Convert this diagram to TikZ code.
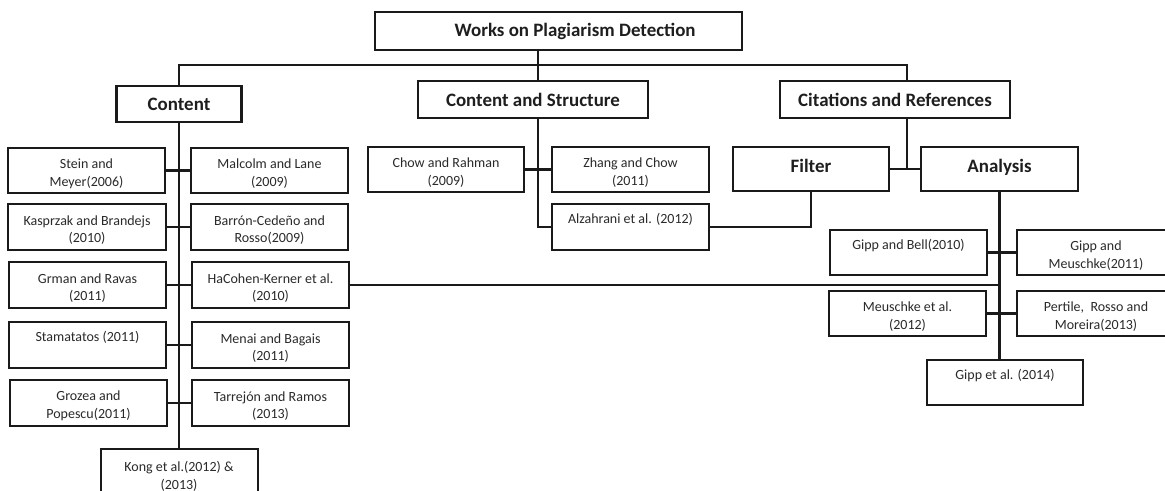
\documentclass[tikz,border=0pt]{standalone}
\usepackage{fontspec}
\setmainfont{Carlito}
\definecolor{linec}{HTML}{1A1A1A}
\definecolor{textc}{HTML}{1E1E1E}
\definecolor{textd}{HTML}{2A2A2A}
\tikzset{
  basebox/.style={draw=linec, inner sep=0pt, outer sep=0pt, align=center, fill=white},
  headbox/.style={basebox, line width=2.1pt, font=\fontsize{14.2}{17}\selectfont\bfseries, text=textc},
  refbox/.style={basebox, line width=1.5pt},
  reftext/.style={inner sep=0pt, align=center, font=\fontsize{10.5}{13.2}\selectfont, text=textd},
  conn/.style={draw=linec, line width=2.1pt},
}
\newcommand\bx[7]{\node[#1, minimum width={(#5-#3)*0.75pt}, minimum height={(#6-#4)*0.75pt}] (#2) at ({(#3+#5)/2},{(#4+#6)/2}) {#7};}
\newcommand\rb[6]{\node[refbox, minimum width={(#4-#2)*0.75pt}, minimum height={(#5-#3)*0.75pt}] (#1) at ({(#2+#4)/2},{(#3+#5)/2}) {};
  \node[reftext] (#1-t) at ([yshift=-2.3pt]#1.center) {#6};}
\begin{document}
\begin{tikzpicture}[x=0.75pt,y=-0.75pt]
\useasboundingbox (0,0) rectangle (1165,491);
\clip (0,0) rectangle (1165,491);
% headings
\bx{headbox}{root}{375}{12}{742}{50}{\hspace*{25pt}Works on Plagiarism Detection}
\bx{headbox}{content}{116.5}{86}{241.5}{122}{Content}
\bx{headbox}{cs}{418}{81}{648}{118}{Content and Structure}
\bx{headbox}{cit}{780}{81}{1010}{118}{Citations and References}
\bx{headbox}{filter}{733}{147}{889}{191}{\raisebox{4.5pt}{Filter}}
\bx{headbox}{analysis}{921}{147}{1078}{191}{\raisebox{4.5pt}{Analysis}}
% content column
\rb{stein}{8}{148}{165}{193}{Stein and\\Meyer(2006)}
\rb{malcolm}{191}{148}{348}{193}{Malcolm and Lane\\(2009)}
\rb{kasprzak}{8}{204}{166}{250}{Kasprzak and Brandejs\\(2010)}
\rb{barron}{191}{204}{348}{250}{Barrón-Cedeño and\\Rosso(2009)}
\rb{grman}{9}{262}{166}{308}{Grman and Ravas\\(2011)}
\rb{hacohen}{192}{262}{349}{308}{HaCohen-Kerner et al.\\(2010)}
\rb{stamatatos}{9}{322}{166}{368}{Stamatatos (2011)\\\strut}
\rb{menai}{192}{322}{349}{368}{Menai and Bagais\\(2011)}
\rb{grozea}{10}{380}{167}{426}{Grozea and\\Popescu(2011)}
\rb{tarrejon}{192}{380}{349}{426}{Tarrejón and Ramos\\(2013)}
\rb{kong}{100.5}{449}{257.5}{497}{Kong et al.(2012) \&\\(2013)}
% content and structure column
\rb{chow}{368}{147}{524}{192}{Chow and Rahman\\(2009)}
\rb{zhang}{552}{147}{709}{192}{Zhang and Chow\\(2011)}
\rb{alz}{552}{204}{709}{250}{Alzahrani et al. (2012)\\\strut}
% analysis column
\rb{gippbell}{830}{230}{987}{275}{Gipp and Bell(2010)\\\strut}
\rb{gippmeu}{1017}{230}{1175}{275}{Gipp and\\Meuschke(2011)}
\rb{meuschke}{829}{291}{986}{336}{Meuschke et al.\\(2012)}
\rb{pertile}{1017}{291}{1175}{336}{Pertile,\ \ Rosso and\\Moreira(2013)}
\rb{gipp2014}{927}{360}{1083}{405}{Gipp et al. (2014)\\\strut}
% connectors
\coordinate (jroot) at (538,65);
\coordinate (jright) at (907,65);
\draw[conn] (jroot |- root.south) -- (jroot);
\draw[conn] (content.north) |- (jright) -- (jright |- cit.north);
\draw[conn] (jroot) -- (jroot |- cs.north);
\draw[conn] (content.south) -- (kong.north);
\draw[conn] (stein.east) -- (malcolm.west);
\draw[conn] (kasprzak.east) -- (barron.west);
\draw[conn] (grman.east) -- (hacohen.west);
\draw[conn] (stamatatos.east) -- (menai.west);
\draw[conn] (grozea.east) -- (tarrejon.west);
\draw[conn] (jroot |- cs.south) |- (alz.west);
\draw[conn] (chow.east) -- (zhang.west);
\draw[conn] (alz.east) -| (filter.south);
\draw[conn] (jright |- cit.south) -- (jright |- filter.east);
\draw[conn] (filter.east) -- (analysis.west);
\draw[conn] (analysis.south) -- (analysis.south |- gipp2014.north);
\draw[conn] (gippbell.east) -- (gippmeu.west);
\draw[conn] (meuschke.east) -- (pertile.west);
\draw[conn] (hacohen.east) -- (hacohen.east -| analysis.south);
\end{tikzpicture}
\end{document}
